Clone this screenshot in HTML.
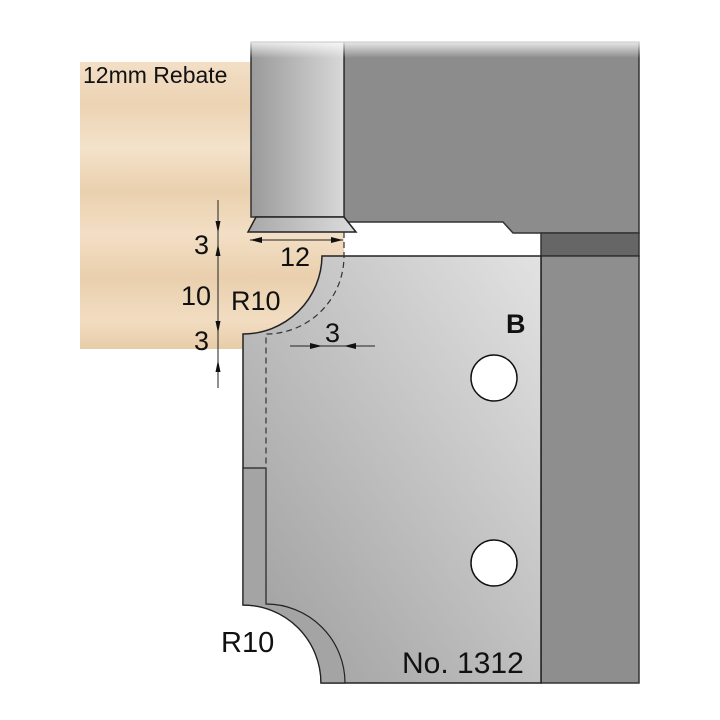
<!DOCTYPE html>
<html><head><meta charset="utf-8"><style>html,body{margin:0;padding:0;background:#fff}svg{display:block}</style></head>
<body>
<svg width="720" height="720" viewBox="0 0 720 720" xmlns="http://www.w3.org/2000/svg" font-family="Liberation Sans, Arial, sans-serif">
<defs>
<linearGradient id="wood" x1="0" y1="0" x2="0" y2="1">
<stop offset="0" stop-color="#f3dfc6"/><stop offset="0.15" stop-color="#ecd3b3"/><stop offset="0.3" stop-color="#f4e2cb"/><stop offset="0.45" stop-color="#ead0ae"/><stop offset="0.6" stop-color="#f3dfc5"/><stop offset="0.75" stop-color="#e9cfad"/><stop offset="0.9" stop-color="#f2ddc2"/><stop offset="1" stop-color="#e8cca8"/>
</linearGradient>
<linearGradient id="shaft" x1="0" y1="0" x2="1" y2="0">
<stop offset="0" stop-color="#9a9a9a"/><stop offset="1" stop-color="#d8d8d8"/>
</linearGradient>
<linearGradient id="cut" x1="1" y1="0" x2="0" y2="1">
<stop offset="0" stop-color="#e2e2e2"/><stop offset="1" stop-color="#9c9c9c"/>
</linearGradient>
<linearGradient id="knife" x1="0" y1="0" x2="1" y2="0">
<stop offset="0" stop-color="#a8a8a8"/><stop offset="1" stop-color="#dcdcdc"/>
</linearGradient>
<linearGradient id="fade" x1="0" y1="0" x2="0" y2="1">
<stop offset="0" stop-color="#fff" stop-opacity="1"/><stop offset="1" stop-color="#fff" stop-opacity="0"/>
</linearGradient>
</defs>
<path d="M80 62 H344 V256 H322 A79 79 0 0 1 243 334 V349 H80 Z" fill="url(#wood)"/>
<path d="M344 42 H639 V233 H513 L503 222 H344 Z" fill="#8c8c8c" stroke="#333" stroke-width="1.5"/>
<rect x="541" y="233" width="98" height="23" fill="#666" stroke="#333" stroke-width="1.5"/>
<rect x="541" y="256" width="98" height="427" fill="#8e8e8e" stroke="#333" stroke-width="1.5"/>
<rect x="251" y="42" width="93" height="175" fill="url(#shaft)" stroke="#333" stroke-width="1.5"/>
<rect x="250" y="38" width="392" height="20" fill="url(#fade)"/>
<path d="M256 217 H344 L356 232 H248 Z" fill="url(#knife)" stroke="#222" stroke-width="1.5"/>
<path d="M322 256 H541 V683 H321 A78 78 0 0 0 243 605 V334 A79 79 0 0 0 322 256 Z" fill="url(#cut)" stroke="#222" stroke-width="1.5"/>
<path d="M243 468 H266 V604 A79 79 0 0 1 345 683 H321 A78 78 0 0 0 243 605 Z" fill="#a4a4a4" stroke="#222" stroke-width="1.2"/>
<path d="M344 232 V256 A78 78 0 0 1 266 334 V468" fill="none" stroke="#333" stroke-width="1.2" stroke-dasharray="6,4"/>
<circle cx="494" cy="378" r="23" fill="#fff" stroke="#111" stroke-width="1.5"/>
<circle cx="494" cy="563" r="23" fill="#fff" stroke="#111" stroke-width="1.5"/>
<g stroke="#222" stroke-width="1" fill="#111">
<line x1="218" y1="200" x2="218" y2="388"/>
<line x1="250" y1="240" x2="343" y2="240"/>
<line x1="290" y1="346" x2="375" y2="346"/>
</g>
<g fill="#111">
<path d="M218 233 l-2.5 -12 h5 Z"/>
<path d="M218 244 l-2.5 12 h5 Z"/>
<path d="M218 333 l-2.5 -12 h5 Z"/>
<path d="M218 360 l-2.5 12 h5 Z"/>
<path d="M250 240 l12 -3 v6 Z"/>
<path d="M343 240 l-12 -3 v6 Z"/>
<path d="M322 346 l-12 -3 v6 Z"/>
<path d="M344 346 l12 -3 v6 Z"/>
</g>
<g fill="#111" font-size="27">
<text x="83" y="83" font-size="23">12mm Rebate</text>
<text x="194" y="254">3</text>
<text x="181" y="305">10</text>
<text x="194" y="350">3</text>
<text x="280" y="266">12</text>
<text x="231" y="310">R10</text>
<text x="325" y="342">3</text>
<text x="506" y="333" font-size="27" font-weight="bold">B</text>
<text x="221" y="652" font-size="29">R10</text>
<text x="402" y="673" font-size="30">No. 1312</text>
</g>
</svg>
</body></html>
